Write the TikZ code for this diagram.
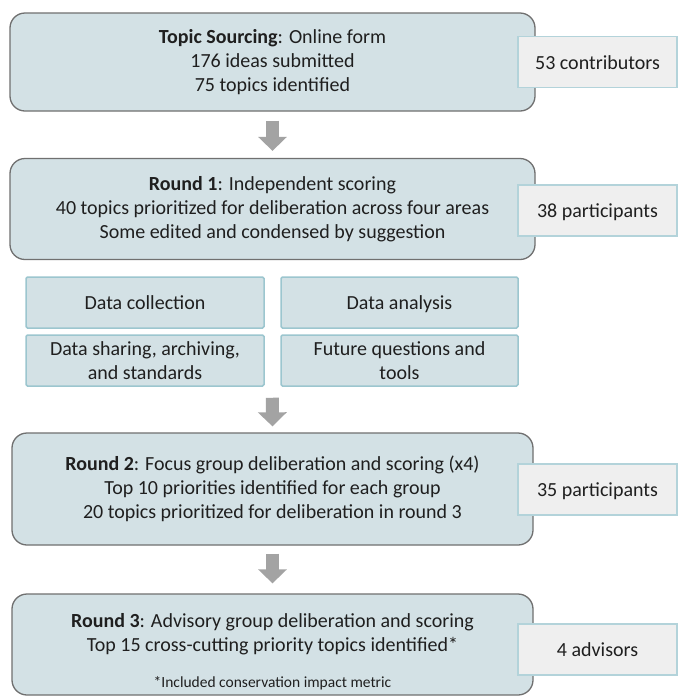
\documentclass[tikz,border=0pt]{standalone}
\usepackage{fontspec}
\setmainfont{Carlito}
\usetikzlibrary{arrows.meta,calc}
\definecolor{mainfill}{HTML}{D3E1E5}
\definecolor{mainline}{HTML}{707070}
\definecolor{sidefill}{HTML}{EFEFEF}
\definecolor{sideline}{HTML}{B3D3DA}
\definecolor{gridfill}{HTML}{D3E1E5}
\definecolor{gridline}{HTML}{9CC6CF}
\definecolor{arrowgray}{HTML}{A3A3A3}
\tikzset{
  txt/.style={font=\fontsize{20}{24}\selectfont, text=black!88, align=center, inner sep=0pt},
  oneline/.style={text height=14pt, text depth=0pt},
  mainbox/.style={txt, draw=mainline, line width=1.3pt, fill=mainfill, rounded corners=15pt, minimum width=525pt},
  sidebox/.style={txt, oneline, draw=sideline, line width=1.2pt, fill=sidefill, minimum width=159pt, minimum height=51pt},
  gridbox/.style={txt, draw=gridline, line width=1.5pt, fill=gridfill, rounded corners=1.5pt, minimum height=51pt},
  bigarrow/.style={draw=arrowgray, line width=13pt, -{Triangle[width=28pt,length=14pt]}},
  foot/.style={font=\fontsize{15.5}{18}\selectfont, text=black!88, inner sep=0pt}
}
\begin{document}
\begin{tikzpicture}[x=1pt,y=-1pt]
\useasboundingbox[fill=white] (0,0) rectangle (681,697);
% main boxes
\node[mainbox, minimum height=98pt] (b1) at (272.5,62) {\textbf{Topic Sourcing}: Online form\\176 ideas submitted\\75 topics identified};
\node[mainbox, minimum height=101pt] (b2) at (272.5,209) {\textbf{Round 1}: Independent scoring\\40 topics prioritized for deliberation across four areas\\Some edited and condensed by suggestion};
\node[mainbox, minimum height=112pt, minimum width=521pt] (b3) at (272.5,489) {\textbf{Round 2}: Focus group deliberation and scoring (x4)\\Top 10 priorities identified for each group\\20 topics prioritized for deliberation in round 3};
\node[mainbox, minimum height=101pt, minimum width=521pt] (b4) at (272.5,644.5) {};
\node[txt] (t4) at (272.5,634) {\textbf{Round 3}: Advisory group deliberation and scoring\\Top 15 cross-cutting priority topics identified*};
\node[foot] (f4) at (272.5,683) {*Included conservation impact metric};
% side boxes
\node[sidebox] (s1) at (597.5,62) {53 contributors};
\node[sidebox] (s2) at (597.5,210.5) {38 participants};
\node[sidebox] (s3) at (597.5,489.5) {35 participants};
\node[sidebox] (s4) at (597.5,649.5) {4 advisors};
% grid
\node[gridbox, oneline, minimum width=238pt] (g1) at (145,302.5) {Data collection};
\node[gridbox, oneline, minimum width=237pt] (g2) at (399.5,302.5) {Data analysis};
\node[gridbox, minimum width=238pt] (g3) at (145,360.5) {Data sharing, archiving,\\and standards};
\node[gridbox, minimum width=237pt] (g4) at (399.5,360.5) {Future questions and\\tools};
% arrows
\coordinate (gmid) at ($(g3.south)!0.5!(g4.south)$);
\draw[bigarrow] ([yshift=-9pt]b1.south) -- ([yshift=7pt]b2.north);
\draw[bigarrow] ([yshift=-11pt]gmid) -- ([yshift=6pt]b3.north);
\draw[bigarrow] ([yshift=-8pt]b3.south) -- ([yshift=10pt]b4.north);
\end{tikzpicture}
\end{document}
